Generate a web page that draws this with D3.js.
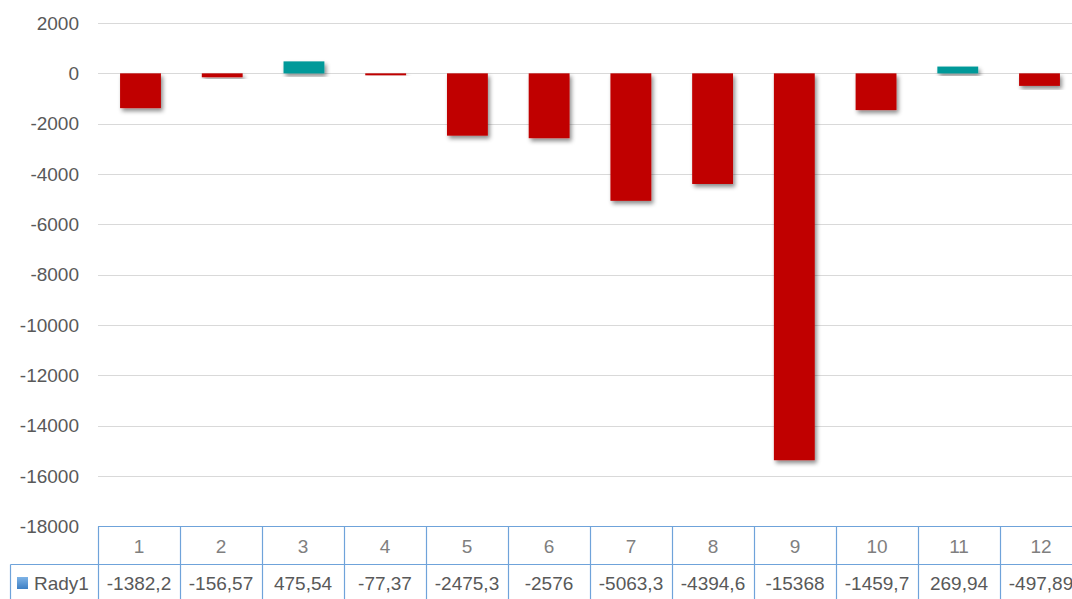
<!DOCTYPE html>
<html><head><meta charset="utf-8">
<script src="https://cdn.jsdelivr.net/npm/d3@7"></script>
<style>
html,body{margin:0;padding:0;background:#fff;}
svg{display:block;font-family:"Liberation Sans",sans-serif;}
</style></head>
<body><svg id="c" width="1072" height="599"></svg>
<script>
const categories = ["1","2","3","4","5","6","7","8","9","10","11","12"];
const values = [-1382.2, -156.57, 475.54, -77.37, -2475.3, -2576, -5063.3, -4394.6, -15368, -1459.7, 269.94, -497.89];
const valueLabels = ["-1382,2","-156,57","475,54","-77,37","-2475,3","-2576","-5063,3","-4394,6","-15368","-1459,7","269,94","-497,89"];
const yTicks = [2000,0,-2000,-4000,-6000,-8000,-10000,-12000,-14000,-16000,-18000];
const seriesName = "Rady1";

const svg = d3.select("#c");
const defs = svg.append("defs");
const f = defs.append("filter").attr("id","sh").attr("x","-20%").attr("y","-20%").attr("width","150%").attr("height","150%");
f.append("feDropShadow").attr("dx",2).attr("dy",3).attr("stdDeviation",2.2).attr("flood-color","#000").attr("flood-opacity",0.45);
const g1 = defs.append("linearGradient").attr("id","lg").attr("x1",0).attr("y1",0).attr("x2",0).attr("y2",1);
g1.append("stop").attr("offset","0%").attr("stop-color","#7eb3e6");
g1.append("stop").attr("offset","100%").attr("stop-color","#3d7fc4");

const x = d3.scaleBand().domain(categories).range([98,1082]).paddingInner(0.5).paddingOuter(0.27);
const xCol = d3.scaleBand().domain(categories).range([98,1082]);
const y = d3.scaleLinear().domain([-18000,2000]).range([526.5,23]);

// gridlines
svg.append("g").selectAll("line").data(yTicks.slice(0,-1)).join("line")
  .attr("x1",98).attr("x2",1082)
  .attr("y1",d=>Math.round(y(d))+0.5).attr("y2",d=>Math.round(y(d))+0.5)
  .attr("stroke","#d9d9d9").attr("stroke-width",1);

// y axis labels
const yAxis = d3.axisLeft(y).tickValues(yTicks).tickSize(0).tickPadding(0).tickFormat(d=>String(d));
const ya = svg.append("g").attr("transform","translate(79,0)").call(yAxis);
ya.select(".domain").remove();
ya.selectAll("text").attr("fill","#595959").attr("font-size",19).attr("font-family","'Liberation Sans',sans-serif");

// bars
svg.append("g").selectAll("rect").data(values).join("rect")
  .attr("x",(d,i)=>x(categories[i]))
  .attr("width",x.bandwidth())
  .attr("y",d=>y(Math.max(0,d)))
  .attr("height",d=>Math.max(1,Math.abs(y(d)-y(0))))
  .attr("fill",d=>d<0?"#c00000":"#009999")
  .attr("filter","url(#sh)");

// data table
const tTop = 526.5, tMid = 564.5, tBot = 610;
const colEdges = categories.map(c=>xCol(c));
colEdges.push(1082);
const tb = svg.append("g").attr("stroke","#6fa3da").attr("stroke-width",1.2).attr("fill","none");
tb.append("line").attr("x1",98).attr("x2",1082).attr("y1",tTop).attr("y2",tTop);
tb.append("line").attr("x1",10.5).attr("x2",1082).attr("y1",tMid).attr("y2",tMid);
tb.append("line").attr("x1",10.5).attr("x2",10.5).attr("y1",tMid).attr("y2",tBot);
tb.selectAll("line.v").data(colEdges).join("line").attr("class","v")
  .attr("x1",d=>Math.round(d)+0.5).attr("x2",d=>Math.round(d)+0.5).attr("y1",tTop).attr("y2",tBot);

svg.append("g").selectAll("text").data(categories).join("text")
  .attr("x",d=>xCol(d)+xCol.bandwidth()/2).attr("y",553)
  .attr("text-anchor","middle").attr("fill","#7f7f7f").attr("font-size",19).text(d=>d);
svg.append("g").selectAll("text").data(valueLabels).join("text")
  .attr("x",(d,i)=>xCol(categories[i])+xCol.bandwidth()/2).attr("y",590)
  .attr("text-anchor","middle").attr("fill","#595959").attr("font-size",19).text(d=>d);

svg.append("rect").attr("x",17).attr("y",577).attr("width",11).attr("height",12).attr("fill","url(#lg)");
svg.append("text").attr("x",34).attr("y",590).attr("fill","#595959").attr("font-size",19).text(seriesName);
</script></body></html>
